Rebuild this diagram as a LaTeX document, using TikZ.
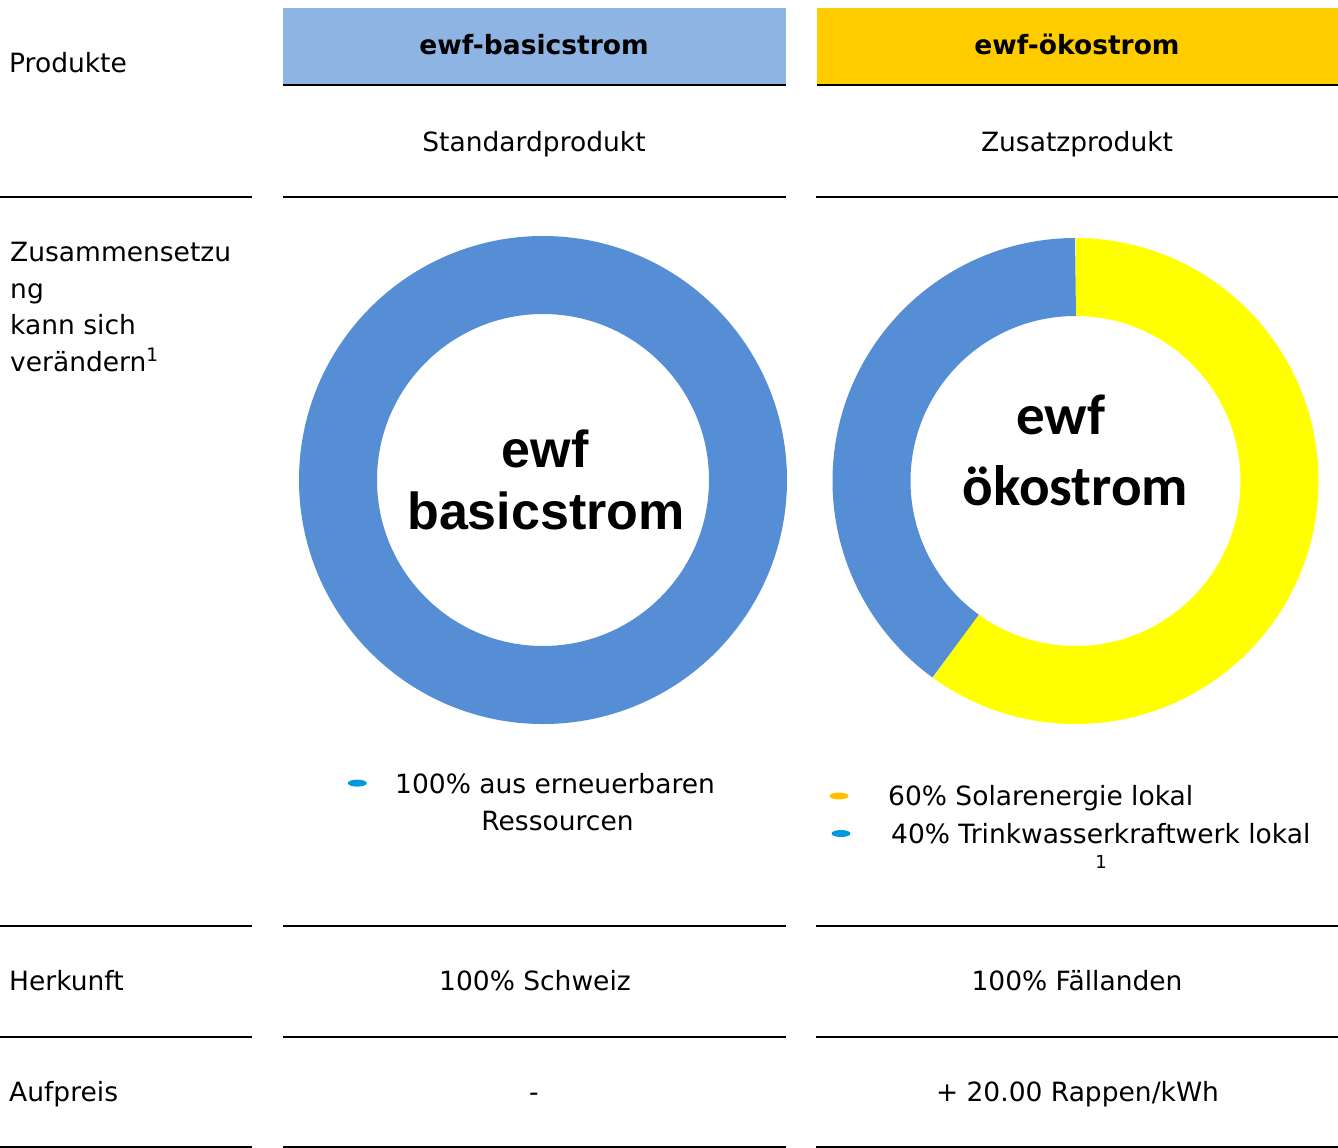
\documentclass[tikz,border=0pt]{standalone}
\usepackage{fontspec}
\setmainfont{DejaVu Sans}
\newfontfamily\arialfont{Liberation Sans}
\newfontfamily\calfont{Carlito}
\usepackage{tikz}
\usetikzlibrary{positioning, shapes.geometric}
\definecolor{headblue}{HTML}{8EB4E3}
\definecolor{headyellow}{HTML}{FFCC00}
\definecolor{ringblue}{HTML}{558ED5}
\definecolor{ringyellow}{HTML}{FFFF00}
\definecolor{dotblue}{HTML}{0099DD}
\definecolor{dotyellow}{HTML}{FFC000}

\begin{document}
\begin{tikzpicture}[x=1pt,y=-1pt,
  every node/.style={inner sep=0pt},
  cell text/.style={font=\fontsize{26.5}{36.5}\selectfont},
  head text/.style={font=\fontsize{26.5}{32}\selectfont\bfseries},
  ring text/.style={font=\arialfont\bfseries\fontsize{52}{60}\selectfont},
  eco text/.style={font=\calfont\bfseries\fontsize{57}{64}\selectfont},
  rule line/.style={line width=2.4pt},
  ring/.style={line width=78pt},
  dot/.style={ellipse, minimum width=19pt, minimum height=7pt}]
  \useasboundingbox (0,0) rectangle (1338,1148);

  % header cells
  \fill[headblue] (283,8) rectangle (786,84);
  \fill[headyellow] (817,8) rectangle (1338,84);
  \node[head text, anchor=base] (basic) at (534,55) {ewf-basicstrom};
  \node[head text, anchor=base] (oeko) at (1077,55) {ewf-ökostrom};

  % rules
  \draw[rule line] (283,85) -- (786,85) (817,85) -- (1338,85);
  \foreach \y in {197,926,1037,1146.8}
    \draw[rule line] (0,\y) -- (252,\y) (283,\y) -- (786,\y) (816,\y) -- (1338,\y);

  % row labels
  \node[cell text, anchor=base west] (produkte) at (9,72.5) {Produkte};
  \node[cell text, anchor=north west, align=left] (zusammen) at (10,242)
    {Zusammensetzu\\ng\\kann sich\\verändern\textsuperscript{1}};
  \node[cell text, anchor=base west] (herkunft) at (9,990) {Herkunft};
  \node[cell text, anchor=base west] (aufpreis) at (9,1101) {Aufpreis};

  \node[cell text, anchor=base] (standard) at (534,151) {Standardprodukt};
  \node[cell text, anchor=base] (zusatz) at (1077,151) {Zusatzprodukt};
  \node[cell text, anchor=base] (schweiz) at (535,990) {100\% Schweiz};
  \node[cell text, anchor=base] (faellanden) at (1077,990) {100\% Fällanden};
  \node[cell text, anchor=base] (nopreis) at (534,1101) {-};
  \node[cell text, anchor=base] (preis) at (1077.5,1101) {+ 20.00 Rappen/kWh};

  % donut basicstrom
  \coordinate (C1) at (543,480);
  \draw[ring, ringblue] (C1) circle[radius=205pt];
  \node[ring text, anchor=base] (ewfA) at (545,467) {ewf};
  \node[ring text, anchor=base] (basicA) at (546,529) {basicstrom};

  % donut oekostrom
  \coordinate (C2) at (1075.5,481);
  \draw[ring, ringyellow] (C2) ++(90:204pt) arc[start angle=90, end angle=-126, radius=204pt];
  \draw[ring, ringblue] (C2) ++(90:204pt) arc[start angle=90, end angle=234, radius=204pt];
  \node[eco text, anchor=base] (ewfB) at (1061,434) {ewf};
  \node[eco text, anchor=base] (oekoB) at (1075.5,505) {ökostrom};

  % legends
  \node[cell text, anchor=base west] (legA) at (395,793) {100\% aus erneuerbaren};
  \node[cell text, anchor=base] (legAb) at (557.5,830) {Ressourcen};
  \node[dot, fill=dotblue, left=28pt of legA] (dotA) {};

  \node[cell text, anchor=base west] (legB) at (888,805) {60\% Solarenergie lokal};
  \node[cell text, anchor=base west] (legC) at (891,843) {40\% Trinkwasserkraftwerk lokal};
  \node[dot, fill=dotyellow] (dotB) at (839,796) {};
  \node[dot, fill=dotblue] (dotC) at (841,833.5) {};
  \node[font=\fontsize{18}{20}\selectfont, anchor=base] (fussnote) at (1101,868) {1};
\end{tikzpicture}
\end{document}
